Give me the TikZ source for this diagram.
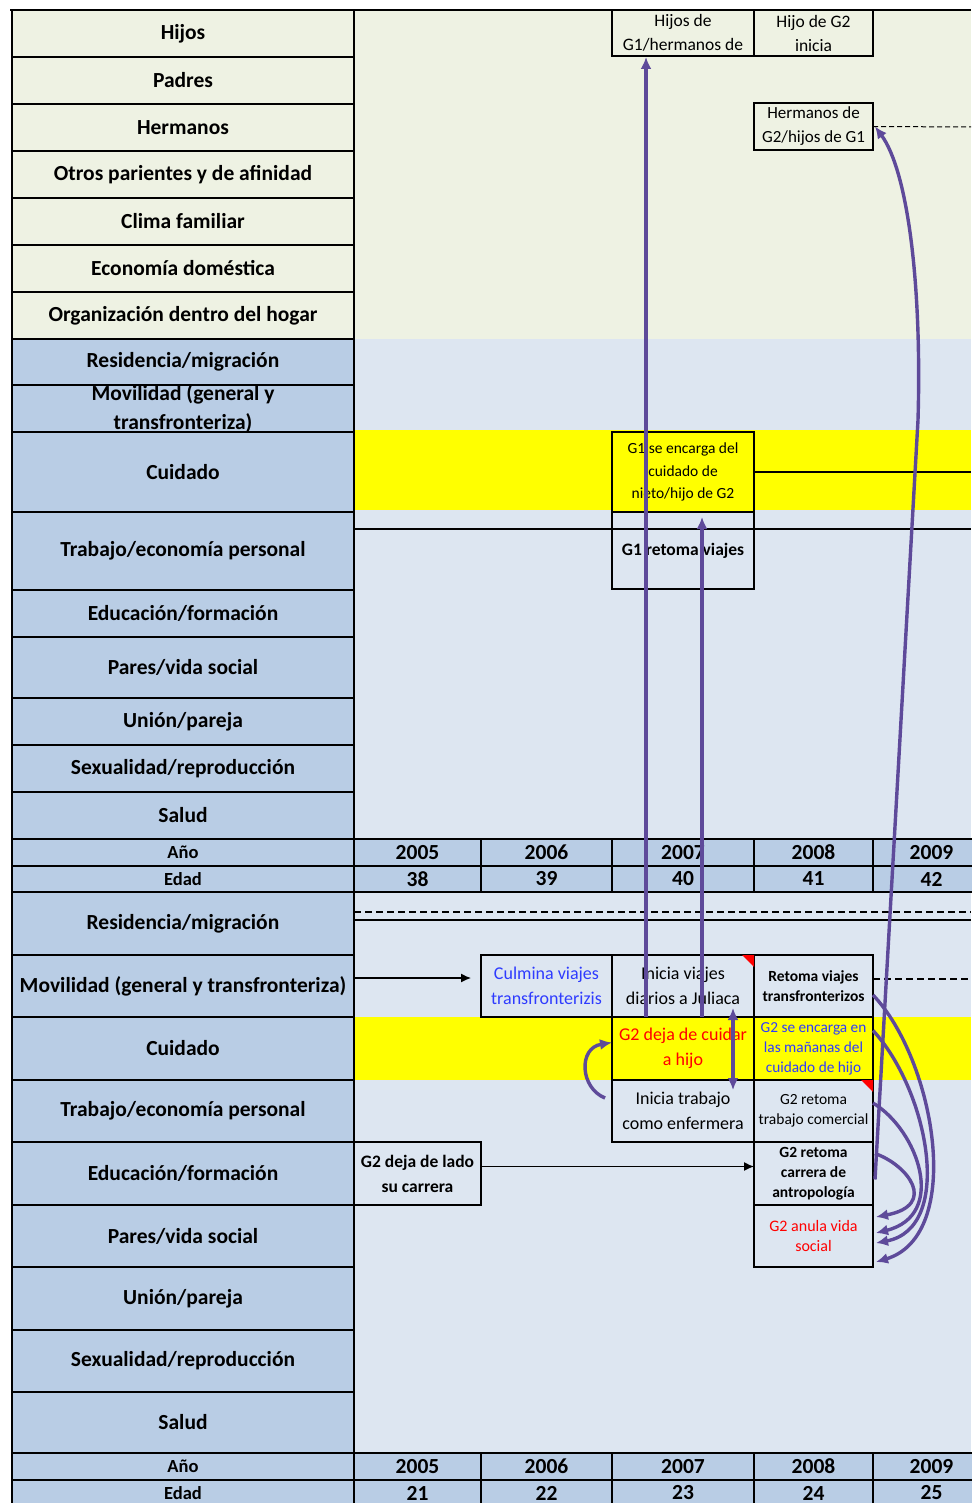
\documentclass[tikz,border=0pt]{standalone}
\usepackage{fontspec}
\setmainfont{Carlito}
\usetikzlibrary{arrows.meta,calc}
\definecolor{lgreen}{HTML}{EEF2E3}
\definecolor{lblue}{HTML}{DDE6F1}
\definecolor{mblue}{HTML}{B9CDE5}
\definecolor{yel}{HTML}{FFFF00}
\definecolor{purp}{HTML}{5E4A9A}
\definecolor{tblue}{HTML}{2E3BFF}
\definecolor{cred}{HTML}{FF0000}
\newcommand\rowlab[5]{\node[lab,fill=#5,minimum height=#3] (#1) at (12,#2) {#4};}
\begin{document}
\begin{tikzpicture}[x=1pt,y=-1pt,
  lab/.style={draw, line width=1.3pt, anchor=north west, inner sep=0pt, outer sep=0pt,
    minimum width=342, align=center, font=\fontsize{21.5}{25}\selectfont\bfseries},
  box/.style={draw, line width=1.3pt, anchor=north west, inner sep=0pt, outer sep=0pt, align=center},
  yrlab/.style={draw, line width=2.5pt, fill=mblue, anchor=north west, inner sep=0pt, outer sep=0pt,
    minimum width=342, font=\fontsize{18.5}{20}\selectfont\bfseries},
  yrc/.style={draw, line width=1.3pt, fill=mblue, anchor=north west, inner sep=0pt, outer sep=0pt,
    font=\fontsize{21.5}{23}\selectfont\bfseries},
  parr/.style={draw=purp, line width=3.4pt, -{Latex[length=12pt,width=11pt]}},
  blk/.style={line width=1.3pt, -{Latex[length=10pt,width=9pt]}},
  dlong/.style={line width=1.6pt, dash pattern=on 7pt off 4pt},
  dshort/.style={line width=1pt, dash pattern=on 5pt off 3pt}
]
\useasboundingbox (0,0) rectangle (971,1503);
\fill[white] (0,0) rectangle (971,1503);
% backgrounds
\fill[lgreen] (354,10) rectangle (971,339);
\fill[lblue] (354,339) rectangle (971,839);
\fill[yel] (354,430) rectangle (971,510);
\fill[lblue] (354,892) rectangle (971,1453);
\fill[yel] (354,1017) rectangle (971,1080);
% left labels, first part
\rowlab{hijos}{10}{47}{Hijos}{lgreen}
\rowlab{padres}{57}{47}{Padres}{lgreen}
\rowlab{herm}{104}{47}{Hermanos}{lgreen}
\rowlab{otros}{151}{47}{Otros parientes y de afinidad}{lgreen}
\rowlab{clima}{198}{47}{Clima familiar}{lgreen}
\rowlab{econ}{245}{47}{Economía doméstica}{lgreen}
\rowlab{org}{292}{47}{Organización dentro del hogar}{lgreen}
\rowlab{resA}{339}{46}{Residencia/migración}{mblue}
\node[lab,fill=mblue,minimum height=47,font=\fontsize{21.5}{29}\selectfont\bfseries] (movA) at (12,385) {Movilidad (general y\\transfronteriza)};
\rowlab{cuiA}{432}{80}{Cuidado}{mblue}
\rowlab{traA}{512}{78}{Trabajo/economía personal}{mblue}
\rowlab{eduA}{590}{47}{Educación/formación}{mblue}
\rowlab{parA}{637}{61}{Pares/vida social}{mblue}
\rowlab{uniA}{698}{47}{Unión/pareja}{mblue}
\rowlab{sexA}{745}{47}{Sexualidad/reproducción}{mblue}
\rowlab{salA}{792}{47}{Salud}{mblue}
% left labels, second part
\rowlab{resB}{892}{63}{Residencia/migración}{mblue}
\rowlab{movB}{955}{62}{Movilidad (general y transfronteriza)}{mblue}
\rowlab{cuiB}{1017}{63}{Cuidado}{mblue}
\rowlab{traB}{1080}{62}{Trabajo/economía personal}{mblue}
\rowlab{eduB}{1142}{63}{Educación/formación}{mblue}
\rowlab{parB}{1205}{62}{Pares/vida social}{mblue}
\rowlab{uniB}{1267}{63}{Unión/pareja}{mblue}
\rowlab{sexB}{1330}{62}{Sexualidad/reproducción}{mblue}
\rowlab{salB}{1392}{61}{Salud}{mblue}
% year tables
\node[yrlab, minimum height=27] (anoA) at (12,839) {Año};
\node[yrlab, minimum height=26] (edadA) at (12,866) {Edad};
\node[yrlab, minimum height=27] (anoB) at (12,1453) {Año};
\node[yrlab, minimum height=26] (edadB) at (12,1480) {Edad};
\foreach \x/\w/\yr/\ea/\eb [count=\i] in {354/127/2005/38/21, 481/131/2006/39/22, 612/142/2007/40/23, 754/119/2008/41/24, 873/117/2009/42/25}{
  \node[yrc, minimum width=\w, minimum height=27] (yA\i) at (\x,839) {\yr};
  \node[yrc, minimum width=\w, minimum height=26] (eA\i) at (\x,866) {\ea};
  \node[yrc, minimum width=\w, minimum height=27] (yB\i) at (\x,1453) {\yr};
  \node[yrc, minimum width=\w, minimum height=26] (eB\i) at (\x,1480) {\eb};
}
\draw[line width=2.5pt] (354,839) -- (971,839);
\draw[line width=2.5pt] (354,1453) -- (971,1453);
\draw[line width=2.5pt] (10,10) -- (971,10);
% boxes, top
\node[box, fill=lgreen, minimum width=142, minimum height=46, font=\fontsize{17.5}{24}\selectfont] (hijosg1) at (612,10) {Hijos de\\G1/hermanos de};
\node[box, fill=lgreen, minimum width=119, minimum height=46, font=\fontsize{17.5}{24}\selectfont] (hijog2) at (754,10) {Hijo de G2\\inicia};
\node[box, fill=lgreen, minimum width=119, minimum height=47, font=\fontsize{17}{24}\selectfont] (hermg2) at (754,103) {Hermanos de\\G2/hijos de G1};
\node[box, fill=yel, minimum width=142, minimum height=80, font=\fontsize{15.5}{22.5}\selectfont] (g1cuid) at (612,432) {G1 se encarga del\\cuidado de\\nieto/hijo de G2};
\node[box, minimum width=142, minimum height=77, font=\fontsize{17.5}{19}\selectfont\bfseries] (g1ret) at (612,512) {G1 retoma viajes};
% boxes, bottom
\node[box, fill=lblue, minimum width=131, minimum height=62, font=\fontsize{18}{25}\selectfont, text=tblue] (culmina) at (481,955) {Culmina viajes\\transfronterizis};
\node[box, fill=lblue, minimum width=142, minimum height=62, font=\fontsize{18}{25}\selectfont] (iniviajes) at (612,955) {Inicia viajes\\diarios a Juliaca};
\node[box, fill=lblue, minimum width=119, minimum height=62, font=\fontsize{15.5}{20}\selectfont\bfseries] (retviajes) at (754,955) {Retoma viajes\\transfronterizos};
\node[box, fill=yel, minimum width=142, minimum height=63, font=\fontsize{18}{25}\selectfont, text=cred] (gdeja) at (612,1017) {G2 deja de cuidar\\a hijo};
\node[box, fill=yel, minimum width=119, minimum height=63, font=\fontsize{15.3}{20}\selectfont, text=tblue] (gencarga) at (754,1017) {G2 se encarga en\\las mañanas del\\cuidado de hijo};
\node[box, fill=lblue, minimum width=142, minimum height=62, font=\fontsize{18}{25}\selectfont] (initrab) at (612,1080) {Inicia trabajo\\como enfermera};
\node[box, fill=lblue, minimum width=119, minimum height=62, font=\fontsize{15.5}{20}\selectfont] (gtrab) at (754,1080) {G2 retoma\\trabajo comercial};
\node[box, fill=lblue, minimum width=127, minimum height=63, font=\fontsize{17.5}{25}\selectfont\bfseries] (dejalado) at (354,1142) {G2 deja de lado\\su carrera};
\node[box, fill=lblue, minimum width=119, minimum height=63, font=\fontsize{15.5}{20}\selectfont\bfseries] (carrera) at (754,1142) {G2 retoma\\carrera de\\antropología};
\node[box, fill=lblue, minimum width=119, minimum height=62, font=\fontsize{16}{20}\selectfont, text=cred] (anula) at (754,1205) {G2 anula vida\\social};
% comment markers
\fill[cred] ($(iniviajes.north east)+(-12,0)$) -- (iniviajes.north east) -- ($(iniviajes.north east)+(0,12)$) -- cycle;
\fill[cred] ($(gtrab.north east)+(-12,0)$) -- (gtrab.north east) -- ($(gtrab.north east)+(0,12)$) -- cycle;
% black lines
\draw[line width=1.3pt] (g1cuid.east) -- (971,472);
\draw[line width=1.3pt] (354,529) -- (971,529);
\draw[dshort] (hermg2.east) -- (971,127);
\draw[dlong] ($(retviajes.east)+(0,-7)$) -- (971,979);
\draw[dlong] (354,912) -- (971,912);
\draw[line width=1.3pt] (354,920) -- (971,920);
\draw[blk] ($(movB.east)+(0,-8)$) -- ($(culmina.west)+(-10,-8)$);
\draw[blk] ($(dejalado.east)+(0,-7)$) -- ($(carrera.west)+(0,-7)$);
% purple arrows
\draw[parr] ($(gdeja.north west)+(34,0)$) -- ($(hijosg1.south west)+(34,1)$);
\draw[parr] ($(gdeja.north west)+(90,0)$) -- ($(g1ret.north west)+(90,5)$);
\draw[parr, {Latex[length=12pt,width=11pt]}-{Latex[length=12pt,width=11pt]}] ($(iniviajes.south west)+(121,-9)$) -- ($(initrab.north west)+(121,10)$);
\draw[parr] ($(initrab.west)+(-7,-13)$) .. controls (580,1088) and (578,1048) .. ($(gdeja.west)+(0,-6)$);
\draw[parr] ($(carrera.east)+(2,6)$) -- (918,420) .. controls (922,280) and (907,170) .. ($(hermg2.east)+(2,0)$);
\draw[parr] ($(retviajes.east)+(0,9)$) .. controls (935,1060) and (965,1235) .. ($(anula.east)+(3,26)$);
\draw[parr] ($(gencarga.east)+(0,-18)$) .. controls (928,1090) and (955,1228) .. ($(anula.east)+(3,7)$);
\draw[parr] ($(gtrab.east)+(0,-8)$) .. controls (918,1130) and (948,1215) .. ($(anula.east)+(3,-3)$);
\draw[parr] ($(carrera.east)+(2,-20)$) .. controls (908,1165) and (938,1205) .. ($(anula.east)+(3,-19)$);
\end{tikzpicture}
\end{document}
